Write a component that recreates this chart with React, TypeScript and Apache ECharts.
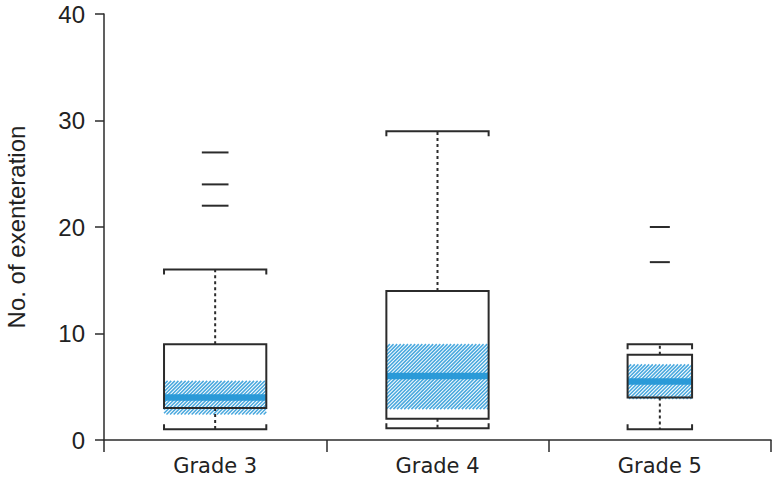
import React, { useEffect, useRef } from "react";
import * as echarts from "echarts";

const categories = ["Grade 3", "Grade 4", "Grade 5"];
const lowerWhisker = [1, 1.1, 1];
const q1 = [3, 2, 4];
const median = [4, 6, 5.5];
const q3 = [9, 14, 8];
const upperWhisker = [16, 29, 9];
const notchLow = [2.4, 2.9, 3.85];
const notchHigh = [5.55, 9, 7.1];
const outliers: number[][] = [[22, 24, 27], [], [16.7, 20]];
const yTicks = [0, 10, 20, 30, 40];

// style constants
const BOX_FRAC = [0.46, 0.46, 0.29];
const OUT_FRAC = [0.12, 0.12, 0.09];
const DARK = "#2b2b2b";
const BLUE = "#2a9ad8";
const HATCH = "#48a8de";

export default function App() {
  const ref = useRef<HTMLDivElement>(null);
  useEffect(() => {
    if (!ref.current) return;
    const chart = echarts.init(ref.current, undefined, { renderer: "svg" });

    const boxData = categories.map((_, i) => [
      i,
      lowerWhisker[i],
      q1[i],
      median[i],
      q3[i],
      upperWhisker[i],
      notchLow[i],
      notchHigh[i],
    ]);
    const outData: number[][] = [];
    outliers.forEach((arr, i) => arr.forEach((v) => outData.push([i, v])));

    const renderBox = (params: any, api: any) => {
      const i = api.value(0);
      const band = api.size([1, 0])[0];
      const w = band * BOX_FRAC[i];
      const cx = api.coord([i, 0])[0];
      const x0 = cx - w / 2;
      const x1 = cx + w / 2;
      const yv = (k: number) => api.coord([i, api.value(k)])[1];
      const yLW = yv(1), yQ1 = yv(2), yMed = yv(3), yQ3 = yv(4), yUW = yv(5), yNL = yv(6), yNH = yv(7);
      const children: any[] = [];
      children.push({
        type: "rect",
        shape: { x: x0, y: yQ3, width: w, height: yQ1 - yQ3 },
        style: { fill: "#fff", stroke: null },
      });
      const top = yNH, bot = yNL;
      const s = 3.6;
      for (let c = x0 + top; c <= x1 + bot + s; c += s) {
        const lo = Math.max(x0, c - bot);
        const hi = Math.min(x1, c - top);
        if (hi > lo) {
          children.push({
            type: "line",
            shape: { x1: lo, y1: c - lo, x2: hi, y2: c - hi },
            style: { stroke: HATCH, lineWidth: 1.5 },
          });
        }
      }
      children.push({
        type: "line",
        shape: { x1: x0, y1: yMed, x2: x1, y2: yMed },
        style: { stroke: BLUE, lineWidth: 6.5 },
      });
      children.push({
        type: "rect",
        shape: { x: x0, y: yQ3, width: w, height: yQ1 - yQ3 },
        style: { fill: "none", stroke: DARK, lineWidth: 2 },
      });
      children.push({
        type: "line",
        shape: { x1: cx, y1: yQ3, x2: cx, y2: yUW },
        style: { stroke: DARK, lineWidth: 2, lineDash: [3, 3] },
      });
      children.push({
        type: "line",
        shape: { x1: cx, y1: yQ1, x2: cx, y2: yLW },
        style: { stroke: DARK, lineWidth: 2, lineDash: [3, 3] },
      });
      const tick = 5;
      children.push({
        type: "polyline",
        shape: { points: [[x0, yUW + tick], [x0, yUW], [x1, yUW], [x1, yUW + tick]] },
        style: { fill: "none", stroke: DARK, lineWidth: 2 },
      });
      children.push({
        type: "polyline",
        shape: { points: [[x0, yLW - tick], [x0, yLW], [x1, yLW], [x1, yLW - tick]] },
        style: { fill: "none", stroke: DARK, lineWidth: 2 },
      });
      return { type: "group", children };
    };

    const renderOut = (params: any, api: any) => {
      const i = api.value(0);
      const band = api.size([1, 0])[0];
      const half = (band * OUT_FRAC[i]) / 2;
      const p = api.coord([i, api.value(1)]);
      return {
        type: "line",
        shape: { x1: p[0] - half, y1: p[1], x2: p[0] + half, y2: p[1] },
        style: { stroke: DARK, lineWidth: 2 },
      };
    };

    chart.setOption({
      animation: false,
      grid: { left: 104, right: 3, top: 14, bottom: 41, containLabel: false, outerBoundsMode: "none" },
      xAxis: {
        type: "category",
        data: categories,
        boundaryGap: true,
        axisLine: { lineStyle: { color: DARK, width: 1.5 } },
        axisTick: { show: true, length: 12, lineStyle: { color: DARK, width: 1.5 } },
        axisLabel: {
          fontFamily: "DejaVu Sans",
          fontSize: 21,
          lineHeight: 20,
          color: "#222",
          margin: 16,
        },
      },
      yAxis: {
        type: "value",
        min: yTicks[0],
        max: yTicks[yTicks.length - 1],
        interval: 10,
        name: "No. of exenteration",
        nameLocation: "middle",
        nameGap: 76,
        nameTextStyle: { fontFamily: "Liberation Sans", fontSize: 24, color: "#222" },
        axisLine: { show: true, lineStyle: { color: DARK, width: 1.5 } },
        axisTick: { show: true, length: 9, lineStyle: { color: DARK, width: 1.5 } },
        splitLine: { show: false },
        axisLabel: {
          fontFamily: "Liberation Sans",
          fontSize: 24,
          color: "#222",
          margin: 19,
        },
      },
      series: [
        { type: "custom", renderItem: renderBox, data: boxData, clip: false, z: 2 },
        { type: "custom", renderItem: renderOut, data: outData, clip: false, z: 3 },
      ],
    });
    return () => chart.dispose();
  }, []);
  return <div ref={ref} style={{ width: 774, height: 481, position: "absolute", left: 0, top: 0 }} />;
}
